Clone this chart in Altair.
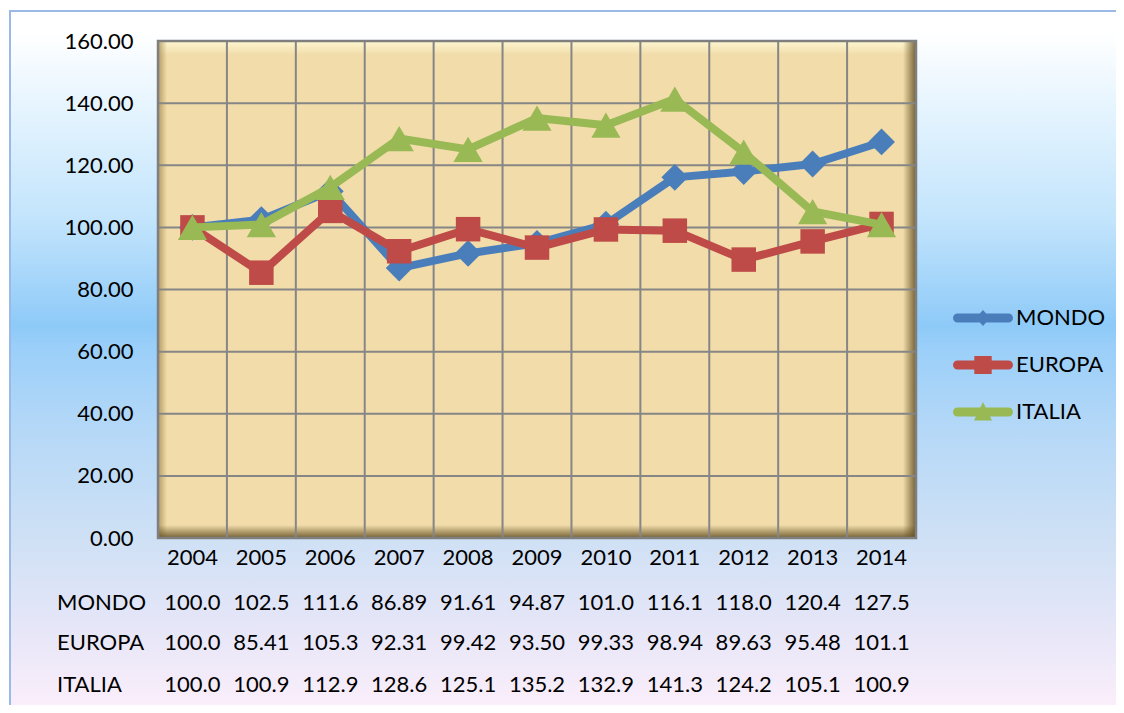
import altair as alt
import pandas as pd

# ---------------- data ----------------
years = ["2004", "2005", "2006", "2007", "2008", "2009", "2010", "2011", "2012", "2013", "2014"]
series = ["MONDO", "EUROPA", "ITALIA"]
mondo = [100.0, 102.5, 111.6, 86.89, 91.61, 94.87, 101.0, 116.1, 118.0, 120.4, 127.5]
europa = [100.0, 85.41, 105.3, 92.31, 99.42, 93.50, 99.33, 98.94, 89.63, 95.48, 101.1]
italia = [100.0, 100.9, 112.9, 128.6, 125.1, 135.2, 132.9, 141.3, 124.2, 105.1, 100.9]
y_ticks = [0, 20, 40, 60, 80, 100, 120, 140, 160]

values = {"MONDO": mondo, "EUROPA": europa, "ITALIA": italia}
colors = {"MONDO": "#4A7EBB", "EUROPA": "#BE4B48", "ITALIA": "#98B954"}
shapes = {"MONDO": "diamond", "EUROPA": "square", "ITALIA": "triangle-up"}
sizes = {"MONDO": 720, "EUROPA": 600, "ITALIA": 850}

FONT = "Lato"
FS = 22
W, H = 758, 497

one = pd.DataFrame({"k": [0]})


def mkX(band_pos=None):
    kw = {}
    if band_pos is not None:
        kw["bandPosition"] = band_pos
    return alt.X(
        "year:N",
        sort=years,
        scale=alt.Scale(domain=years, paddingInner=0, paddingOuter=0),
        axis=alt.Axis(title=None, labelFontSize=FS, labelFont=FONT, labelColor="#000000",
                      labelPadding=9, ticks=False, domain=False, grid=False, labelAngle=0, zindex=2),
        **kw,
    )


Y = alt.Y(
    "value:Q",
    scale=alt.Scale(domain=[0, 160], nice=False),
    axis=alt.Axis(title=None, values=y_ticks, format=".2f", labelFontSize=FS, labelFont=FONT,
                  labelColor="#000000", labelPadding=25, ticks=False, domain=False, grid=False, zindex=2),
)

# ---------------- background (chart area gradient) ----------------
bg_grad = alt.Gradient(
    gradient="linear", x1=0, x2=0, y1=0, y2=1,
    stops=[
        alt.GradientStop(color="#FFFFFF", offset=0.0),
        alt.GradientStop(color="#FFFFFF", offset=0.03),
        alt.GradientStop(color="#E3F3FE", offset=0.15),
        alt.GradientStop(color="#C2E4FC", offset=0.30),
        alt.GradientStop(color="#8ECAF8", offset=0.45),
        alt.GradientStop(color="#9ACFF9", offset=0.48),
        alt.GradientStop(color="#B5D8F7", offset=0.60),
        alt.GradientStop(color="#CEE0F5", offset=0.75),
        alt.GradientStop(color="#E9E7F8", offset=0.90),
        alt.GradientStop(color="#FCEFFB", offset=1.0),
    ],
)
bg = alt.Chart(one).mark_rect(fill=bg_grad, stroke="#9BB9E6", strokeWidth=2).encode(
    x=alt.value(-148), x2=alt.value(W + 206), y=alt.value(-30), y2=alt.value(H + 172)
)

# ---------------- plot area (papyrus-like with bevel) ----------------
plot_fill = alt.Chart(one).mark_rect(fill="#F1DCAA").encode(
    x=alt.value(0), x2=alt.value(W), y=alt.value(0), y2=alt.value(H)
)


def grad(c0, c1, vertical):
    if vertical:
        return alt.Gradient(gradient="linear", x1=0, x2=0, y1=0, y2=1,
                            stops=[alt.GradientStop(color=c0, offset=0), alt.GradientStop(color=c1, offset=1)])
    return alt.Gradient(gradient="linear", x1=0, x2=1, y1=0, y2=0,
                        stops=[alt.GradientStop(color=c0, offset=0), alt.GradientStop(color=c1, offset=1)])


bevel_top = alt.Chart(one).mark_rect(fill=grad("rgba(255,248,210,0.95)", "rgba(255,248,210,0)", True)).encode(
    x=alt.value(0), x2=alt.value(W), y=alt.value(0), y2=alt.value(14))
bevel_left = alt.Chart(one).mark_rect(fill=grad("rgba(140,112,55,0.6)", "rgba(140,112,55,0)", False)).encode(
    x=alt.value(0), x2=alt.value(9), y=alt.value(0), y2=alt.value(H))
bevel_bottom = alt.Chart(one).mark_rect(fill=grad("rgba(95,75,30,0)", "rgba(95,75,30,0.85)", True)).encode(
    x=alt.value(0), x2=alt.value(W), y=alt.value(H - 13), y2=alt.value(H))
bevel_right = alt.Chart(one).mark_rect(fill=grad("rgba(95,75,30,0)", "rgba(95,75,30,0.85)", False)).encode(
    x=alt.value(W - 13), x2=alt.value(W), y=alt.value(0), y2=alt.value(H))

# gridlines
grid_x = alt.Chart(pd.DataFrame({"year": years})).mark_rule(color="#868686", strokeWidth=2).encode(x=mkX(0))
grid_y = alt.Chart(pd.DataFrame({"value": y_ticks})).mark_rule(color="#868686", strokeWidth=2).encode(y=Y)

frame = alt.Chart(one).mark_rect(fill="#000000", fillOpacity=0, stroke="#7F7F7F", strokeWidth=2.5).encode(
    x=alt.value(0), x2=alt.value(W), y=alt.value(0), y2=alt.value(H))

layers = [bg, plot_fill, bevel_top, bevel_left, bevel_bottom, bevel_right, grid_x, grid_y, frame]

# ---------------- series ----------------
for s in series:
    d = pd.DataFrame({"year": years, "value": values[s]})
    layers.append(
        alt.Chart(d).mark_line(color=colors[s], strokeWidth=8, strokeJoin="round", strokeCap="round")
        .encode(x=mkX(), y=Y)
    )
    layers.append(
        alt.Chart(d).mark_point(filled=True, shape=shapes[s], size=sizes[s], color=colors[s],
                                opacity=1, strokeWidth=0)
        .encode(x=mkX(), y=Y)
    )

# ---------------- data table below the chart ----------------
row_y = {"MONDO": 569, "EUROPA": 609, "ITALIA": 651}
for s in series:
    d = pd.DataFrame({"year": years, "label": [f"{v:#.4g}" for v in values[s]]})
    layers.append(
        alt.Chart(d).mark_text(font=FONT, fontSize=FS, color="#000000", baseline="alphabetic", align="center")
        .encode(x=mkX(), y=alt.value(row_y[s]), text="label:N")
    )
    layers.append(
        alt.Chart(pd.DataFrame({"series": [s]}))
        .mark_text(font=FONT, fontSize=FS, color="#000000", baseline="alphabetic", align="left")
        .encode(x=alt.value(-101), y=alt.value(row_y[s]), text="series:N")
    )

# ---------------- legend ----------------
line_part = "M-0.85,-0.15H0.85A0.15,0.15 0 0 1 0.85,0.15H-0.85A0.15,0.15 0 0 1 -0.85,-0.15Z"
leg_paths = [
    line_part + "M0,-0.27L0.24,0L0,0.27L-0.24,0Z",
    line_part + "M-0.29,-0.3H0.29V0.3H-0.29Z",
    line_part + "M0,-0.33L0.3,0.28L-0.3,0.28Z",
]
leg_df = pd.DataFrame({"series": series})
legend = alt.Legend(orient="none", legendX=795, legendY=247, title=None, labelFont=FONT,
                    labelFontSize=FS, labelColor="#000000", symbolSize=3600, symbolStrokeWidth=0,
                    symbolOpacity=1, rowPadding=6, labelOffset=3)
leg = alt.Chart(leg_df).mark_point(filled=True, size=3600, opacity=1).encode(
    x=alt.value(-3000), y=alt.value(-3000),
    color=alt.Color("series:N", scale=alt.Scale(domain=series, range=[colors[s] for s in series]), legend=legend),
    shape=alt.Shape("series:N", scale=alt.Scale(domain=series, range=leg_paths), legend=legend),
)
layers.append(leg)

chart = (
    alt.layer(*layers)
    .properties(width=W, height=H, background="#FFFFFF",
                autosize=alt.AutoSizeParams(type="none"),
                padding={"left": 150, "top": 33, "right": 200, "bottom": 167})
    .configure_view(stroke=None)
)

chart.save("out.html", embed_options={"renderer": "svg", "actions": False})
